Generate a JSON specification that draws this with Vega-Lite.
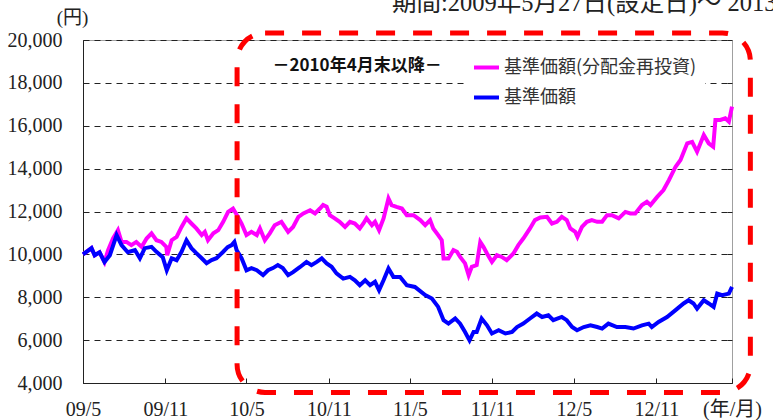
{
  "$schema": "https://vega.github.io/schema/vega-lite/v6.json",
  "width": 649,
  "height": 343,
  "autosize": {"type": "none"},
  "padding": {"left": 83, "top": 40, "right": 41, "bottom": 37},
  "background": "white",
  "config": {"view": {"stroke": "#a0a0a0", "strokeWidth": 1}, "font": "Noto Sans CJK JP"},
  "title": {
    "text": "期間:2009年5月27日(設定日)～ 2013年5月15日",
    "anchor": "start",
    "frame": "group",
    "orient": "top",
    "offset": 0,
    "dx": 309,
    "dy": 27,
    "baseline": "alphabetic",
    "font": "Liberation Serif, Noto Sans CJK JP",
    "fontSize": 24.5,
    "fontWeight": "normal",
    "color": "#222"
  },
  "datasets": {
    "nav": [
      {"date": "2009-05-27", "price": 10000, "series": "基準価額(分配金再投資)"},
      {"date": "2009-06-15", "price": 10290, "series": "基準価額(分配金再投資)"},
      {"date": "2009-06-22", "price": 9960, "series": "基準価額(分配金再投資)"},
      {"date": "2009-07-03", "price": 10100, "series": "基準価額(分配金再投資)"},
      {"date": "2009-07-14", "price": 9640, "series": "基準価額(分配金再投資)"},
      {"date": "2009-07-22", "price": 10200, "series": "基準価額(分配金再投資)"},
      {"date": "2009-08-02", "price": 10740, "series": "基準価額(分配金再投資)"},
      {"date": "2009-08-13", "price": 11130, "series": "基準価額(分配金再投資)"},
      {"date": "2009-08-21", "price": 10580, "series": "基準価額(分配金再投資)"},
      {"date": "2009-09-01", "price": 10580, "series": "基準価額(分配金再投資)"},
      {"date": "2009-09-12", "price": 10430, "series": "基準価額(分配金再投資)"},
      {"date": "2009-09-23", "price": 10580, "series": "基準価額(分配金再投資)"},
      {"date": "2009-10-05", "price": 10350, "series": "基準価額(分配金再投資)"},
      {"date": "2009-10-16", "price": 10740, "series": "基準価額(分配金再投資)"},
      {"date": "2009-10-27", "price": 10980, "series": "基準価額(分配金再投資)"},
      {"date": "2009-11-07", "price": 10660, "series": "基準価額(分配金再投資)"},
      {"date": "2009-11-18", "price": 10580, "series": "基準価額(分配金再投資)"},
      {"date": "2009-11-29", "price": 10350, "series": "基準価額(分配金再投資)"},
      {"date": "2009-12-01", "price": 9960, "series": "基準価額(分配金再投資)"},
      {"date": "2009-12-11", "price": 10660, "series": "基準価額(分配金再投資)"},
      {"date": "2009-12-22", "price": 10820, "series": "基準価額(分配金再投資)"},
      {"date": "2010-01-02", "price": 11280, "series": "基準価額(分配金再投資)"},
      {"date": "2010-01-13", "price": 11680, "series": "基準価額(分配金再投資)"},
      {"date": "2010-01-24", "price": 11440, "series": "基準価額(分配金再投資)"},
      {"date": "2010-02-04", "price": 11210, "series": "基準価額(分配金再投資)"},
      {"date": "2010-02-16", "price": 10900, "series": "基準価額(分配金再投資)"},
      {"date": "2010-02-23", "price": 11050, "series": "基準価額(分配金再投資)"},
      {"date": "2010-03-02", "price": 10660, "series": "基準価額(分配金再投資)"},
      {"date": "2010-03-14", "price": 10980, "series": "基準価額(分配金再投資)"},
      {"date": "2010-03-25", "price": 11130, "series": "基準価額(分配金再投資)"},
      {"date": "2010-04-05", "price": 11520, "series": "基準価額(分配金再投資)"},
      {"date": "2010-04-16", "price": 11980, "series": "基準価額(分配金再投資)"},
      {"date": "2010-04-27", "price": 12140, "series": "基準価額(分配金再投資)"},
      {"date": "2010-05-08", "price": 11750, "series": "基準価額(分配金再投資)"},
      {"date": "2010-05-16", "price": 11440, "series": "基準価額(分配金再投資)"},
      {"date": "2010-05-27", "price": 10900, "series": "基準価額(分配金再投資)"},
      {"date": "2010-06-07", "price": 11050, "series": "基準価額(分配金再投資)"},
      {"date": "2010-06-19", "price": 10900, "series": "基準価額(分配金再投資)"},
      {"date": "2010-06-26", "price": 11210, "series": "基準価額(分配金再投資)"},
      {"date": "2010-07-07", "price": 10660, "series": "基準価額(分配金再投資)"},
      {"date": "2010-07-18", "price": 10980, "series": "基準価額(分配金再投資)"},
      {"date": "2010-07-29", "price": 11360, "series": "基準価額(分配金再投資)"},
      {"date": "2010-08-13", "price": 11520, "series": "基準価額(分配金再投資)"},
      {"date": "2010-08-28", "price": 11050, "series": "基準価額(分配金再投資)"},
      {"date": "2010-09-08", "price": 11280, "series": "基準価額(分配金再投資)"},
      {"date": "2010-09-20", "price": 11750, "series": "基準価額(分配金再投資)"},
      {"date": "2010-10-01", "price": 11910, "series": "基準価額(分配金再投資)"},
      {"date": "2010-10-16", "price": 12060, "series": "基準価額(分配金再投資)"},
      {"date": "2010-10-27", "price": 11910, "series": "基準価額(分配金再投資)"},
      {"date": "2010-11-07", "price": 12140, "series": "基準価額(分配金再投資)"},
      {"date": "2010-11-14", "price": 12300, "series": "基準価額(分配金再投資)"},
      {"date": "2010-11-22", "price": 12220, "series": "基準価額(分配金再投資)"},
      {"date": "2010-11-29", "price": 11830, "series": "基準価額(分配金再投資)"},
      {"date": "2010-12-10", "price": 11680, "series": "基準価額(分配金再投資)"},
      {"date": "2010-12-21", "price": 11520, "series": "基準価額(分配金再投資)"},
      {"date": "2011-01-02", "price": 11280, "series": "基準価額(分配金再投資)"},
      {"date": "2011-01-13", "price": 11520, "series": "基準価額(分配金再投資)"},
      {"date": "2011-01-24", "price": 11440, "series": "基準価額(分配金再投資)"},
      {"date": "2011-02-04", "price": 11210, "series": "基準価額(分配金再投資)"},
      {"date": "2011-02-12", "price": 11440, "series": "基準価額(分配金再投資)"},
      {"date": "2011-02-19", "price": 11680, "series": "基準価額(分配金再投資)"},
      {"date": "2011-03-03", "price": 11360, "series": "基準価額(分配金再投資)"},
      {"date": "2011-03-10", "price": 11520, "series": "基準価額(分配金再投資)"},
      {"date": "2011-03-19", "price": 11130, "series": "基準価額(分配金再投資)"},
      {"date": "2011-03-29", "price": 11680, "series": "基準価額(分配金再投資)"},
      {"date": "2011-04-09", "price": 12610, "series": "基準価額(分配金再投資)"},
      {"date": "2011-04-16", "price": 12300, "series": "基準価額(分配金再投資)"},
      {"date": "2011-04-27", "price": 12220, "series": "基準価額(分配金再投資)"},
      {"date": "2011-05-09", "price": 12140, "series": "基準価額(分配金再投資)"},
      {"date": "2011-05-20", "price": 11830, "series": "基準価額(分配金再投資)"},
      {"date": "2011-06-04", "price": 11830, "series": "基準価額(分配金再投資)"},
      {"date": "2011-06-19", "price": 11600, "series": "基準価額(分配金再投資)"},
      {"date": "2011-06-30", "price": 11360, "series": "基準価額(分配金再投資)"},
      {"date": "2011-07-11", "price": 11600, "series": "基準価額(分配金再投資)"},
      {"date": "2011-07-18", "price": 11210, "series": "基準価額(分配金再投資)"},
      {"date": "2011-07-29", "price": 10900, "series": "基準価額(分配金再投資)"},
      {"date": "2011-08-06", "price": 10660, "series": "基準価額(分配金再投資)"},
      {"date": "2011-08-10", "price": 9810, "series": "基準価額(分配金再投資)"},
      {"date": "2011-08-21", "price": 9810, "series": "基準価額(分配金再投資)"},
      {"date": "2011-09-01", "price": 10200, "series": "基準価額(分配金再投資)"},
      {"date": "2011-09-09", "price": 10120, "series": "基準価額(分配金再投資)"},
      {"date": "2011-09-16", "price": 9880, "series": "基準価額(分配金再投資)"},
      {"date": "2011-09-27", "price": 9580, "series": "基準価額(分配金再投資)"},
      {"date": "2011-10-05", "price": 9030, "series": "基準価額(分配金再投資)"},
      {"date": "2011-10-12", "price": 9420, "series": "基準価額(分配金再投資)"},
      {"date": "2011-10-23", "price": 9500, "series": "基準価額(分配金再投資)"},
      {"date": "2011-10-31", "price": 10580, "series": "基準価額(分配金再投資)"},
      {"date": "2011-11-07", "price": 10350, "series": "基準価額(分配金再投資)"},
      {"date": "2011-11-15", "price": 10040, "series": "基準価額(分配金再投資)"},
      {"date": "2011-11-26", "price": 9650, "series": "基準価額(分配金再投資)"},
      {"date": "2011-12-07", "price": 9960, "series": "基準価額(分配金再投資)"},
      {"date": "2011-12-18", "price": 9880, "series": "基準価額(分配金再投資)"},
      {"date": "2011-12-29", "price": 9730, "series": "基準価額(分配金再投資)"},
      {"date": "2012-01-13", "price": 10040, "series": "基準価額(分配金再投資)"},
      {"date": "2012-01-24", "price": 10430, "series": "基準価額(分配金再投資)"},
      {"date": "2012-02-04", "price": 10740, "series": "基準価額(分配金再投資)"},
      {"date": "2012-02-19", "price": 11210, "series": "基準価額(分配金再投資)"},
      {"date": "2012-03-01", "price": 11600, "series": "基準価額(分配金再投資)"},
      {"date": "2012-03-13", "price": 11720, "series": "基準価額(分配金再投資)"},
      {"date": "2012-03-28", "price": 11750, "series": "基準価額(分配金再投資)"},
      {"date": "2012-04-08", "price": 11440, "series": "基準価額(分配金再投資)"},
      {"date": "2012-04-19", "price": 11520, "series": "基準価額(分配金再投資)"},
      {"date": "2012-04-30", "price": 11750, "series": "基準価額(分配金再投資)"},
      {"date": "2012-05-11", "price": 11600, "series": "基準価額(分配金再投資)"},
      {"date": "2012-05-19", "price": 11210, "series": "基準価額(分配金再投資)"},
      {"date": "2012-05-30", "price": 11050, "series": "基準価額(分配金再投資)"},
      {"date": "2012-06-04", "price": 10820, "series": "基準価額(分配金再投資)"},
      {"date": "2012-06-14", "price": 11280, "series": "基準価額(分配金再投資)"},
      {"date": "2012-06-25", "price": 11520, "series": "基準価額(分配金再投資)"},
      {"date": "2012-07-06", "price": 11600, "series": "基準価額(分配金再投資)"},
      {"date": "2012-07-18", "price": 11520, "series": "基準価額(分配金再投資)"},
      {"date": "2012-07-29", "price": 11520, "series": "基準価額(分配金再投資)"},
      {"date": "2012-08-09", "price": 11830, "series": "基準価額(分配金再投資)"},
      {"date": "2012-08-20", "price": 11830, "series": "基準価額(分配金再投資)"},
      {"date": "2012-09-04", "price": 11680, "series": "基準価額(分配金再投資)"},
      {"date": "2012-09-19", "price": 11980, "series": "基準価額(分配金再投資)"},
      {"date": "2012-09-30", "price": 11910, "series": "基準価額(分配金再投資)"},
      {"date": "2012-10-11", "price": 11910, "series": "基準価額(分配金再投資)"},
      {"date": "2012-10-26", "price": 12300, "series": "基準価額(分配金再投資)"},
      {"date": "2012-11-06", "price": 12450, "series": "基準価額(分配金再投資)"},
      {"date": "2012-11-14", "price": 12300, "series": "基準価額(分配金再投資)"},
      {"date": "2012-11-29", "price": 12680, "series": "基準価額(分配金再投資)"},
      {"date": "2012-12-13", "price": 13000, "series": "基準価額(分配金再投資)"},
      {"date": "2012-12-25", "price": 13460, "series": "基準価額(分配金再投資)"},
      {"date": "2013-01-09", "price": 14090, "series": "基準価額(分配金再投資)"},
      {"date": "2013-01-20", "price": 14400, "series": "基準価額(分配金再投資)"},
      {"date": "2013-02-04", "price": 15180, "series": "基準価額(分配金再投資)"},
      {"date": "2013-02-15", "price": 15250, "series": "基準価額(分配金再投資)"},
      {"date": "2013-02-26", "price": 14790, "series": "基準価額(分配金再投資)"},
      {"date": "2013-03-13", "price": 15570, "series": "基準価額(分配金再投資)"},
      {"date": "2013-03-24", "price": 15180, "series": "基準価額(分配金再投資)"},
      {"date": "2013-04-03", "price": 15020, "series": "基準価額(分配金再投資)"},
      {"date": "2013-04-08", "price": 16270, "series": "基準価額(分配金再投資)"},
      {"date": "2013-04-19", "price": 16270, "series": "基準価額(分配金再投資)"},
      {"date": "2013-04-30", "price": 16350, "series": "基準価額(分配金再投資)"},
      {"date": "2013-05-08", "price": 16190, "series": "基準価額(分配金再投資)"},
      {"date": "2013-05-15", "price": 16890, "series": "基準価額(分配金再投資)"},
      {"date": "2009-05-27", "price": 10000, "series": "基準価額"},
      {"date": "2009-06-15", "price": 10290, "series": "基準価額"},
      {"date": "2009-06-22", "price": 9960, "series": "基準価額"},
      {"date": "2009-07-03", "price": 10100, "series": "基準価額"},
      {"date": "2009-07-14", "price": 9640, "series": "基準価額"},
      {"date": "2009-07-26", "price": 9960, "series": "基準価額"},
      {"date": "2009-08-10", "price": 10900, "series": "基準価額"},
      {"date": "2009-08-21", "price": 10430, "series": "基準価額"},
      {"date": "2009-09-04", "price": 10100, "series": "基準価額"},
      {"date": "2009-09-20", "price": 10200, "series": "基準価額"},
      {"date": "2009-10-01", "price": 9820, "series": "基準価額"},
      {"date": "2009-10-12", "price": 10290, "series": "基準価額"},
      {"date": "2009-10-27", "price": 10350, "series": "基準価額"},
      {"date": "2009-11-07", "price": 10120, "series": "基準価額"},
      {"date": "2009-11-21", "price": 9870, "series": "基準価額"},
      {"date": "2009-11-30", "price": 9260, "series": "基準価額"},
      {"date": "2009-12-11", "price": 9820, "series": "基準価額"},
      {"date": "2009-12-22", "price": 9730, "series": "基準価額"},
      {"date": "2010-01-02", "price": 10120, "series": "基準価額"},
      {"date": "2010-01-13", "price": 10660, "series": "基準価額"},
      {"date": "2010-01-24", "price": 10290, "series": "基準価額"},
      {"date": "2010-02-04", "price": 10060, "series": "基準価額"},
      {"date": "2010-02-16", "price": 9820, "series": "基準価額"},
      {"date": "2010-02-27", "price": 9590, "series": "基準価額"},
      {"date": "2010-03-10", "price": 9730, "series": "基準価額"},
      {"date": "2010-03-21", "price": 9820, "series": "基準価額"},
      {"date": "2010-04-04", "price": 10100, "series": "基準価額"},
      {"date": "2010-04-15", "price": 10340, "series": "基準価額"},
      {"date": "2010-04-24", "price": 10430, "series": "基準価額"},
      {"date": "2010-04-30", "price": 10580, "series": "基準価額"},
      {"date": "2010-05-05", "price": 10200, "series": "基準価額"},
      {"date": "2010-05-16", "price": 9820, "series": "基準価額"},
      {"date": "2010-05-27", "price": 9260, "series": "基準価額"},
      {"date": "2010-06-07", "price": 9360, "series": "基準価額"},
      {"date": "2010-06-19", "price": 9260, "series": "基準価額"},
      {"date": "2010-07-03", "price": 9030, "series": "基準価額"},
      {"date": "2010-07-14", "price": 9260, "series": "基準価額"},
      {"date": "2010-07-25", "price": 9360, "series": "基準価額"},
      {"date": "2010-08-05", "price": 9500, "series": "基準価額"},
      {"date": "2010-08-16", "price": 9360, "series": "基準価額"},
      {"date": "2010-08-28", "price": 9030, "series": "基準価額"},
      {"date": "2010-09-08", "price": 9170, "series": "基準価額"},
      {"date": "2010-09-23", "price": 9400, "series": "基準価額"},
      {"date": "2010-10-08", "price": 9650, "series": "基準価額"},
      {"date": "2010-10-19", "price": 9500, "series": "基準価額"},
      {"date": "2010-10-31", "price": 9650, "series": "基準価額"},
      {"date": "2010-11-11", "price": 9810, "series": "基準価額"},
      {"date": "2010-11-22", "price": 9580, "series": "基準価額"},
      {"date": "2010-12-03", "price": 9420, "series": "基準価額"},
      {"date": "2010-12-14", "price": 9110, "series": "基準価額"},
      {"date": "2010-12-29", "price": 8870, "series": "基準価額"},
      {"date": "2011-01-13", "price": 8950, "series": "基準価額"},
      {"date": "2011-01-24", "price": 8790, "series": "基準価額"},
      {"date": "2011-02-04", "price": 8560, "series": "基準価額"},
      {"date": "2011-02-16", "price": 8790, "series": "基準価額"},
      {"date": "2011-02-27", "price": 8560, "series": "基準価額"},
      {"date": "2011-03-10", "price": 8720, "series": "基準価額"},
      {"date": "2011-03-19", "price": 8330, "series": "基準価額"},
      {"date": "2011-03-29", "price": 8790, "series": "基準価額"},
      {"date": "2011-04-09", "price": 9340, "series": "基準価額"},
      {"date": "2011-04-20", "price": 8950, "series": "基準価額"},
      {"date": "2011-05-05", "price": 8950, "series": "基準価額"},
      {"date": "2011-05-20", "price": 8560, "series": "基準価額"},
      {"date": "2011-06-07", "price": 8480, "series": "基準価額"},
      {"date": "2011-06-30", "price": 8100, "series": "基準価額"},
      {"date": "2011-07-15", "price": 7940, "series": "基準価額"},
      {"date": "2011-07-29", "price": 7550, "series": "基準価額"},
      {"date": "2011-08-10", "price": 6930, "series": "基準価額"},
      {"date": "2011-08-21", "price": 6770, "series": "基準価額"},
      {"date": "2011-09-05", "price": 7010, "series": "基準価額"},
      {"date": "2011-09-16", "price": 6770, "series": "基準価額"},
      {"date": "2011-09-27", "price": 6380, "series": "基準価額"},
      {"date": "2011-10-07", "price": 5990, "series": "基準価額"},
      {"date": "2011-10-16", "price": 6380, "series": "基準価額"},
      {"date": "2011-10-23", "price": 6380, "series": "基準価額"},
      {"date": "2011-11-03", "price": 7010, "series": "基準価額"},
      {"date": "2011-11-15", "price": 6690, "series": "基準価額"},
      {"date": "2011-11-26", "price": 6310, "series": "基準価額"},
      {"date": "2011-12-11", "price": 6460, "series": "基準価額"},
      {"date": "2011-12-26", "price": 6310, "series": "基準価額"},
      {"date": "2012-01-10", "price": 6380, "series": "基準価額"},
      {"date": "2012-01-21", "price": 6610, "series": "基準価額"},
      {"date": "2012-02-04", "price": 6770, "series": "基準価額"},
      {"date": "2012-02-19", "price": 7010, "series": "基準価額"},
      {"date": "2012-03-05", "price": 7240, "series": "基準価額"},
      {"date": "2012-03-17", "price": 7080, "series": "基準価額"},
      {"date": "2012-03-31", "price": 7160, "series": "基準価額"},
      {"date": "2012-04-11", "price": 6930, "series": "基準価額"},
      {"date": "2012-04-30", "price": 7080, "series": "基準価額"},
      {"date": "2012-05-11", "price": 6930, "series": "基準価額"},
      {"date": "2012-05-23", "price": 6610, "series": "基準価額"},
      {"date": "2012-06-03", "price": 6460, "series": "基準価額"},
      {"date": "2012-06-18", "price": 6610, "series": "基準価額"},
      {"date": "2012-07-03", "price": 6690, "series": "基準価額"},
      {"date": "2012-07-18", "price": 6610, "series": "基準価額"},
      {"date": "2012-07-29", "price": 6540, "series": "基準価額"},
      {"date": "2012-08-12", "price": 6770, "series": "基準価額"},
      {"date": "2012-08-31", "price": 6610, "series": "基準価額"},
      {"date": "2012-09-19", "price": 6610, "series": "基準価額"},
      {"date": "2012-10-07", "price": 6540, "series": "基準価額"},
      {"date": "2012-10-26", "price": 6690, "series": "基準価額"},
      {"date": "2012-11-10", "price": 6770, "series": "基準価額"},
      {"date": "2012-11-17", "price": 6610, "series": "基準価額"},
      {"date": "2012-12-02", "price": 6850, "series": "基準価額"},
      {"date": "2012-12-21", "price": 7080, "series": "基準価額"},
      {"date": "2013-01-09", "price": 7400, "series": "基準価額"},
      {"date": "2013-01-27", "price": 7710, "series": "基準価額"},
      {"date": "2013-02-07", "price": 7860, "series": "基準価額"},
      {"date": "2013-02-18", "price": 7710, "series": "基準価額"},
      {"date": "2013-02-26", "price": 7470, "series": "基準価額"},
      {"date": "2013-03-13", "price": 7860, "series": "基準価額"},
      {"date": "2013-03-24", "price": 7710, "series": "基準価額"},
      {"date": "2013-04-04", "price": 7550, "series": "基準価額"},
      {"date": "2013-04-12", "price": 8170, "series": "基準価額"},
      {"date": "2013-04-23", "price": 8100, "series": "基準価額"},
      {"date": "2013-05-08", "price": 8170, "series": "基準価額"},
      {"date": "2013-05-15", "price": 8480, "series": "基準価額"}
    ],
    "box": [
      {"start": "2010-05-06", "end": "2013-06-25", "top": 20330, "bottom": 3560}
    ],
    "note": [
      {"date": "2011-01-29", "price": 18790, "label": "－2010年4月末以降－"}
    ]
  },
  "layer": [
    {
      "data": {"name": "nav"},
      "transform": [{"filter": "datum.series === '基準価額(分配金再投資)'"}],
      "mark": {"type": "line", "strokeWidth": 4, "interpolate": "linear"},
      "encoding": {
        "x": {
          "field": "date",
          "type": "temporal",
          "title": null,
          "scale": {"domain": ["2009-05-27", "2013-05-15"]},
          "axis": {
            "values": ["2009-05-27", "2009-11-27", "2010-05-27", "2010-11-27", "2011-05-27", "2011-11-27", "2012-05-27", "2012-11-27", "2013-05-15"],
            "labelExpr": "datum.value >= datetime(2013, 3, 1) ? '(年/月)' : utcFormat(datum.value, '%y/%-m')",
            "title": null,
            "grid": false,
            "tickSize": -5,
            "tickColor": "#222",
            "domainColor": "#222",
            "labelFont": "Liberation Serif, Noto Sans CJK JP",
            "labelFontSize": 20,
            "labelColor": "#222",
            "labelPadding": 21,
            "labelFlush": false,
            "labelOverlap": false
          }
        },
        "y": {
          "field": "price",
          "type": "quantitative",
          "scale": {"domain": [4000, 20000], "nice": false, "zero": false},
          "axis": {
            "values": [4000, 6000, 8000, 10000, 12000, 14000, 16000, 18000, 20000],
            "format": ",d",
            "grid": true,
            "gridDash": [6, 5],
            "gridColor": "#222",
            "gridWidth": 1,
            "tickSize": -5,
            "tickColor": "#222",
            "domainColor": "#222",
            "labelFont": "Liberation Serif",
            "labelFontSize": 20,
            "labelColor": "#222",
            "labelPadding": 26,
            "labelFlush": false,
            "labelOverlap": false,
            "title": "(円)",
            "titleAngle": 0,
            "titleX": -11,
            "titleY": -23,
            "titleAlign": "center",
            "titleBaseline": "middle",
            "titleFont": "Liberation Serif, Noto Sans CJK JP",
            "titleFontSize": 19,
            "titleFontWeight": "normal",
            "titleColor": "#222"
          }
        },
        "color": {
          "field": "series",
          "type": "nominal",
          "scale": {"domain": ["基準価額(分配金再投資)", "基準価額"], "range": ["#ff00ff", "#0000ff"]},
          "legend": {
            "orient": "none",
            "legendX": 381,
            "legendY": 5,
            "title": null,
            "fillColor": "white",
            "padding": 8,
            "symbolType": "stroke",
            "symbolStrokeWidth": 4,
            "symbolSize": 625,
            "labelFont": "Noto Sans CJK JP",
            "labelFontSize": 18,
            "labelColor": "#333",
            "labelLimit": 400,
            "labelOffset": 3,
            "rowPadding": 6,
            "direction": "vertical"
          }
        }
      }
    },
    {
      "data": {"name": "nav"},
      "transform": [{"filter": "datum.series === '基準価額'"}],
      "mark": {"type": "line", "strokeWidth": 4, "interpolate": "linear"},
      "encoding": {
        "x": {"field": "date", "type": "temporal", "title": null},
        "y": {"field": "price", "type": "quantitative", "scale": {"domain": [4000, 20000], "nice": false, "zero": false}, "axis": null},
        "color": {"field": "series", "type": "nominal"}
      }
    },
    {
      "data": {"name": "box"},
      "mark": {"type": "rect", "filled": false, "stroke": "#ff0000", "strokeWidth": 5, "strokeDash": [19, 18], "cornerRadius": 28},
      "encoding": {
        "x": {"field": "start", "type": "temporal", "title": null},
        "x2": {"field": "end"},
        "y": {
          "field": "top",
          "type": "quantitative",
          "scale": {"domain": [4000, 20000], "nice": false, "zero": false},
          "axis": {
            "orient": "right",
            "values": [4000, 6000, 8000, 10000, 12000, 14000, 16000, 18000, 20000],
            "labels": false,
            "grid": false,
            "domain": false,
            "tickSize": -5,
            "tickColor": "#222",
            "title": null
          }
        },
        "y2": {"field": "bottom"}
      }
    },
    {
      "data": {"name": "note"},
      "mark": {"type": "text", "font": "Noto Sans CJK JP", "fontWeight": "bold", "fontSize": 17, "align": "center", "baseline": "middle", "color": "#111"},
      "encoding": {
        "x": {"field": "date", "type": "temporal", "title": null},
        "y": {"field": "price", "type": "quantitative", "axis": null},
        "text": {"field": "label"}
      }
    }
  ],
  "resolve": {"axis": {"y": "independent"}}
}
